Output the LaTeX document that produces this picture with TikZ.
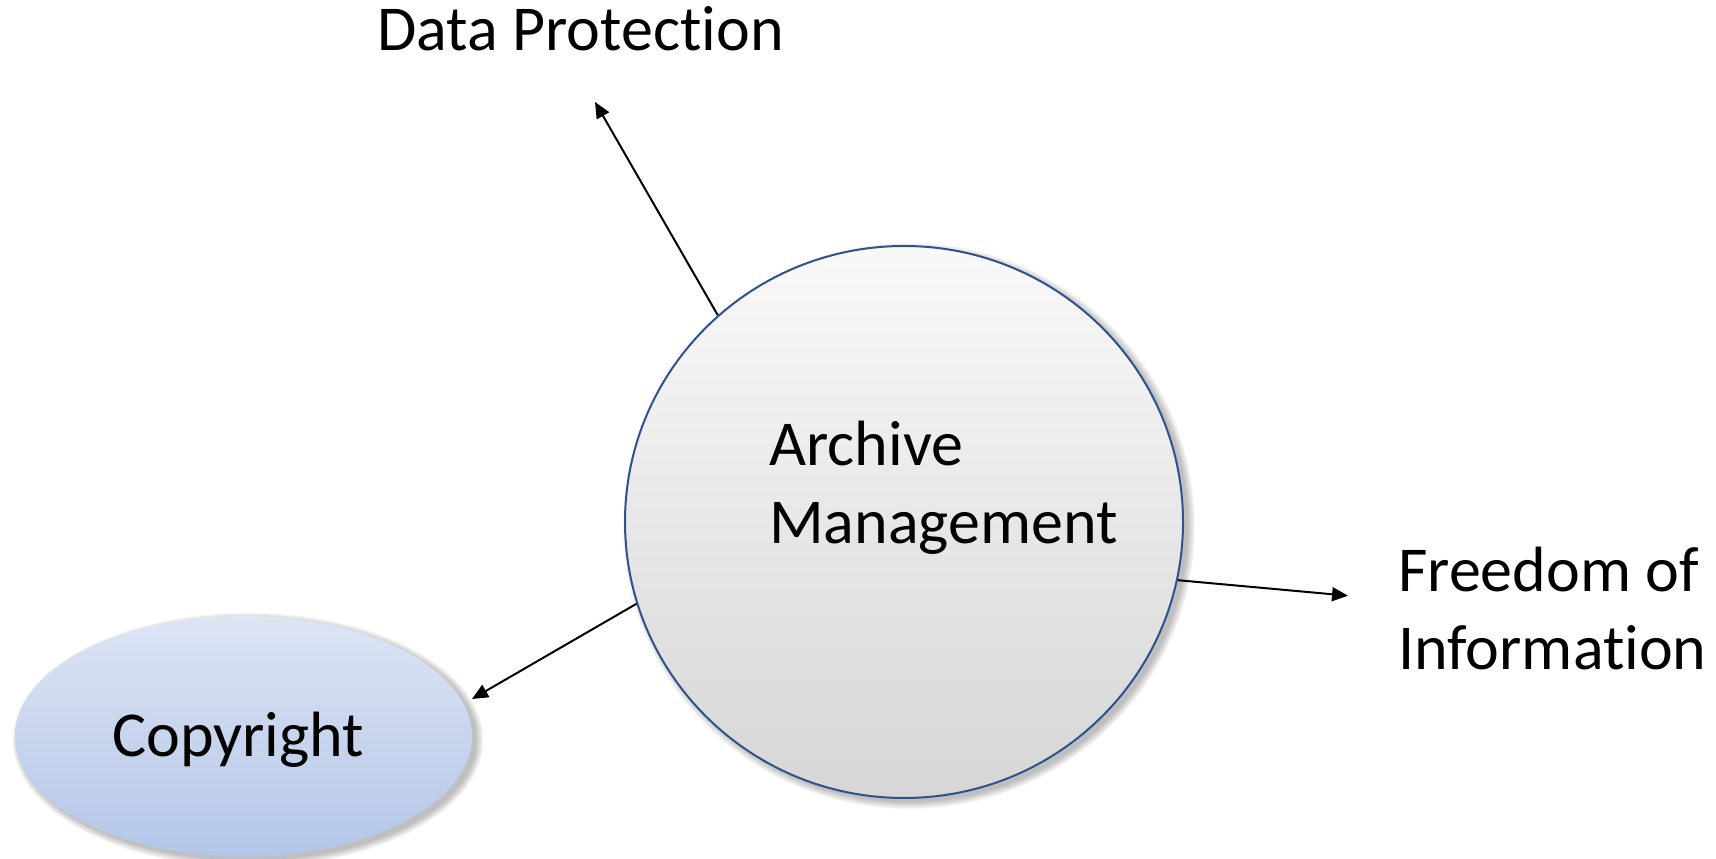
\documentclass[tikz,border=0pt]{standalone}
\usepackage{fontspec}
\setmainfont{Carlito}[Ligatures=NoCommon]
\usetikzlibrary{arrows.meta,shapes.geometric}
\definecolor{edgeblue}{RGB}{47,82,143}
\definecolor{cpTop}{RGB}{242,245,251}
\definecolor{cpMid}{RGB}{200,213,238}
\definecolor{cpBot}{RGB}{168,190,228}
\definecolor{amTop}{RGB}{249,249,249}
\definecolor{amBot}{RGB}{214,214,214}
\pgfdeclareverticalshading{cpshade}{100bp}{color(0bp)=(cpBot!75!cpMid); color(10bp)=(cpBot); color(50bp)=(cpMid); color(100bp)=(cpTop)}
\tikzset{
  lbl/.style={inner sep=0pt, anchor=base west, font=\fontsize{64}{78}\selectfont},
  conn/.style={line width=2pt, -{Triangle[length=16pt,width=14pt]}},
}
\begin{document}
\begin{tikzpicture}[x=1pt,y=1pt]
\useasboundingbox (0,0) rectangle (1716,859);
% soft shadows
\foreach \i in {0,...,7} {
  \fill[black, opacity=0.035] (909,333) ellipse ({279+\i} and {276+\i});
  \fill[black, opacity=0.035] (248,119) ellipse ({228.5+\i} and {120.3+\i});
}
% Copyright ellipse
\node[ellipse, shading=cpshade, minimum width=457, minimum height=240.6, inner sep=0pt] (cp) at (243.5,122.7) {};
\node[lbl] (cpt) at (112,102) {Copyright};
% Archive Management circle
\node[ellipse, draw=edgeblue, line width=2pt, top color=amTop, bottom color=amBot, minimum width=558, minimum height=552, inner sep=0pt] (am) at (904,337) {};
\node[lbl] (amt1) at (769,393) {Archive};
\node[lbl] (amt2) at (769,315) {Management};
% outer labels
\node[lbl] (dp) at (377,808) {Data Protection};
\node[lbl] (foi1) at (1398,267) {Freedom of};
\node[lbl] (foi2) at (1398,189) {Information};
% arrow ends
\coordinate (dpEnd) at (595,757);
\coordinate (foiEnd) at (1348,263.3);
\coordinate (cpEnd) at (472,160);
\draw[conn] (am.132.6) -- (dpEnd);
\draw[conn] (am.-12.2) -- (foiEnd);
\draw[conn] (am.197.8) -- (cpEnd);
\end{tikzpicture}
\end{document}
